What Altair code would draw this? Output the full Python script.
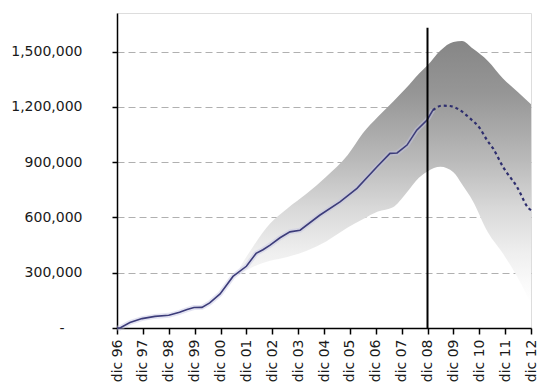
import json
import altair as alt
import pandas as pd

# Month offsets are counted from December 1996 (0) to December 2012 (192).
x_labels = ["dic 96", "dic 97", "dic 98", "dic 99", "dic 00", "dic 01", "dic 02",
            "dic 03", "dic 04", "dic 05", "dic 06", "dic 07", "dic 08", "dic 09",
            "dic 10", "dic 11", "dic 12"]
x_ticks = [12 * i for i in range(len(x_labels))]
y_ticks = [0, 300000, 600000, 900000, 1200000, 1500000]

# Observed series
hist_month = [0, 1.4, 6, 11.6, 17.6, 24, 29, 32.5, 35.7, 39.4, 43, 47.8, 53.8, 60,
              64.5, 67.7, 71, 75.6, 80.2, 84.9, 94, 103.4, 111.3, 120.6, 126.6,
              129.9, 134.5, 139, 143.8, 146.5]
hist_value = [0, 0, 30000, 51000, 63000, 69000, 85000, 100000, 111000, 112000,
              136000, 185000, 280000, 335000, 405000, 425000, 450000, 490000,
              522000, 531000, 612000, 685000, 758000, 875000, 948000, 950000,
              993000, 1074000, 1129000, 1183000]

# Projected series
proj_month = [146.5, 150.7, 154.4, 159, 163.7, 168.3, 171.6, 174.4, 179, 185.5, 191, 192]
proj_value = [1183000, 1207000, 1205000, 1183000, 1138000, 1084000, 1020000, 975000,
              875000, 766000, 649000, 640000]

# Projection range (lower / upper bounds)
band_month = [57, 63, 71, 79, 88, 97, 107, 114, 121, 128, 134, 140, 144, 150, 156,
              160, 165, 172, 179, 186, 192]
band_low = [290000, 331000, 365000, 386000, 420000, 470000, 545000, 590000, 632000,
            655000, 730000, 815000, 850000, 875000, 845000, 780000, 690000, 520000,
            404000, 270000, 130000]
band_high = [330000, 440000, 567000, 649000, 730000, 821000, 939000, 1057000, 1147000,
             1228000, 1301000, 1380000, 1426000, 1507000, 1553000, 1558000, 1517000,
             1450000, 1355000, 1280000, 1215000]

cutoff_month = 144
cutoff_top = 1630000

hist = pd.DataFrame({"m": hist_month, "v": hist_value})
proj = pd.DataFrame({"m": proj_month, "v": proj_value})
band = pd.DataFrame({"m": band_month, "lo": band_low, "hi": band_high})
cut = pd.DataFrame({"m": [cutoff_month], "top": [cutoff_top], "bottom": [0]})

FONT = "DejaVu Sans"
x_scale = alt.Scale(domain=[0, 192], nice=False, zero=False)
y_scale = alt.Scale(domain=[0, 1710000], nice=False)

x_axis = alt.Axis(
    values=x_ticks,
    labelExpr=f"{json.dumps(x_labels)}[round(datum.value / 12)]",
    labelAngle=270,
    labelFont=FONT, labelFontSize=14, labelColor="#1a1a1a",
    labelPadding=5, labelOverlap=False, labelFlush=False,
    tickSize=6, tickColor="#000000", tickWidth=1.5,
    domainColor="#000000", domainWidth=1.5,
    grid=False, title=None,
)
y_axis = alt.Axis(
    values=y_ticks,
    labelExpr="datum.value == 0 ? '-' : format(datum.value, ',')",
    labelFont=FONT, labelFontSize=14, labelColor="#1a1a1a",
    labelPadding={"condition": {"test": "datum.value == 0", "value": 48}, "value": 30},
    tickSize=5, tickColor="#000000", tickWidth=1.5,
    domainColor="#000000", domainWidth=1.5,
    grid=True, gridColor="#b0b0b0", gridDash=[7, 4], gridWidth=1,
    title=None,
)

X = lambda f: alt.X(f"{f}:Q", scale=x_scale, axis=x_axis)

band_layer = alt.Chart(band).mark_area(
    color=alt.Gradient(
        gradient="linear",
        stops=[
            alt.GradientStop(color="#868686", offset=0.0),
            alt.GradientStop(color="#969696", offset=0.2),
            alt.GradientStop(color="#b9b9b9", offset=0.45),
            alt.GradientStop(color="#d9d9d9", offset=0.64),
            alt.GradientStop(color="#ededed", offset=0.79),
            alt.GradientStop(color="#fafafa", offset=0.92),
            alt.GradientStop(color="#ffffff", offset=1.0),
        ],
        x1=0, x2=0, y1=0, y2=1,
    ),
    interpolate="monotone",
).encode(
    x=X("m"),
    y=alt.Y("hi:Q", scale=y_scale, axis=y_axis),
    y2="lo:Q",
)

halo = alt.Chart(hist).mark_line(color="#c4c4e2", strokeWidth=5, opacity=0.45).encode(
    x=X("m"), y=alt.Y("v:Q", scale=y_scale, axis=y_axis)
)
hist_line = alt.Chart(hist).mark_line(color="#3c3c7a", strokeWidth=1.6).encode(
    x=X("m"), y=alt.Y("v:Q", scale=y_scale, axis=y_axis)
)
proj_line = alt.Chart(proj).mark_line(
    color="#2e2e6e", strokeWidth=2.2, strokeDash=[3, 3], interpolate="monotone"
).encode(
    x=X("m"), y=alt.Y("v:Q", scale=y_scale, axis=y_axis)
)
cut_rule = alt.Chart(cut).mark_rule(color="#000000", strokeWidth=2).encode(
    x=X("m"), y=alt.Y("top:Q", scale=y_scale, axis=y_axis), y2="bottom:Q"
)

chart = alt.layer(band_layer, halo, hist_line, proj_line, cut_rule).properties(
    width=414,
    height=315,
    autosize=alt.AutoSizeParams(type="none"),
    padding={"left": 117, "top": 13, "right": 9, "bottom": 55},
).configure_view(stroke=None).configure(background="#ffffff")

chart.save("out.html", embed_options={"renderer": "svg", "actions": False})
